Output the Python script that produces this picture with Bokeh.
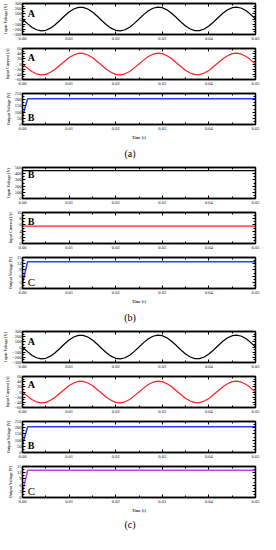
from bokeh.plotting import figure
from bokeh.layouts import column
from bokeh.models import (Range1d, FixedTicker, LinearAxis, Label, Div, PrintfTickFormatter,
                          CustomLabelingPolicy, CustomJSTickFormatter)
from bokeh.embed import file_html
from bokeh.resources import INLINE

# ---------------- data ----------------
TIME_AC = [round(i * 0.001, 3) for i in range(51)]
INPUT_VOLTAGE_AC = [0, -85, -158, -208, -230, -219, -177, -111, -29, 57, 135, 194, 226, 226, 194,
                    135, 57, -29, -111, -177, -219, -230, -208, -158, -85, 0, 85, 158, 208, 230,
                    219, 177, 111, 29, -57, -135, -194, -226, -226, -194, -135, -57, 29, 111, 177,
                    219, 230, 208, 158, 85, 0]
INPUT_CURRENT_AC = [0, -15, -29, -38, -42, -40, -32, -20, -5, 10, 25, 35, 41, 41, 35, 25, 10, -5,
                    -20, -32, -40, -42, -38, -29, -15, 0, 15, 29, 38, 42, 40, 32, 20, 5, -10, -25,
                    -35, -41, -41, -35, -25, -10, 5, 20, 32, 40, 42, 38, 29, 15, 0]
TIME_OUT = [0, 0.00005, 0.0011, 0.05]
OUTPUT_VOLTAGE_B = [0, 70, 207, 207]
OUTPUT_VOLTAGE_C = [0, 3, 13, 13]
OUTPUT_VOLTAGE_C2 = [0, 3, 13.2, 13.2]
TIME_DC = [0, 0.05]
INPUT_VOLTAGE_DC = [450, 450]
INPUT_CURRENT_DC = [5.6, 5.6]

X_TICKS = [0.0, 0.01, 0.02, 0.03, 0.04, 0.05]
X_MINOR = [0.005, 0.015, 0.025, 0.035, 0.045]
V_AC_TICKS = [-300, -200, -100, 0, 100, 200, 300]
I_AC_TICKS = [-60, -40, -20, 0, 20, 40, 60]
V_B_TICKS = [0, 50, 100, 150, 200, 250]
V_DC_TICKS = [0, 100, 200, 300, 400, 500]
I_DC_TICKS = [0, 2, 4, 6, 8, 10]
V_C_TICKS = [0, 3, 6, 9, 12, 15]
CAPTIONS = ["(a)", "(b)", "(c)"]

SERIF = "Liberation Serif"
BLACK = "#000000"
RED = "#ff2020"
BLUE = "#2040ff"
VIOLET = "#c040f0"


def minors(ticks):
    out = []
    for a, b in zip(ticks[:-1], ticks[1:]):
        out.append((a + b) / 2)
    return out


def style_axis(ax, show_labels=True):
    ax.axis_line_color = "black"
    ax.axis_line_width = 1.3
    ax.major_tick_in = 3
    ax.major_tick_out = 0
    ax.minor_tick_in = 2
    ax.minor_tick_out = 0
    ax.major_tick_line_width = 1
    ax.minor_tick_line_width = 1
    ax.major_label_standoff = 1
    ax.major_label_text_font = SERIF
    ax.major_label_text_font_size = "4.5px"
    ax.major_label_text_color = "#111111"
    ax.axis_label_text_font = SERIF
    ax.axis_label_text_font_size = "4px"
    ax.axis_label_text_font_style = "bold"
    ax.axis_label_standoff = 1
    if not show_labels:
        ax.major_label_standoff = 0
        ax.formatter = CustomJSTickFormatter(code="return ''")
        ax.major_label_policy = CustomLabelingPolicy(code="return new Set()")


def panel(ylabel, yr, yticks, xs, ys, color, lw, letter, letter_y, bold=True,
          letter_size="10px", time_title=False):
    h = 54 if time_title else 45
    p = figure(width=260, height=h, x_range=Range1d(0, 0.05), y_range=Range1d(*yr),
               output_backend="svg", toolbar_location=None, x_axis_type=None, y_axis_type=None,
               min_border_left=17, min_border_right=5, min_border_top=3,
               min_border_bottom=20 if time_title else 11)
    p.xgrid.visible = False
    p.ygrid.visible = False
    p.outline_line_color = "black"
    p.outline_line_width = 1.3
    p.background_fill_color = "white"

    xt = FixedTicker(ticks=X_TICKS, minor_ticks=X_MINOR)
    yt = FixedTicker(ticks=yticks, minor_ticks=minors(yticks))

    bottom = LinearAxis(ticker=xt, formatter=PrintfTickFormatter(format="%.2f"))
    style_axis(bottom)
    bottom.major_label_standoff = 2
    if time_title:
        bottom.axis_label = "Time [s]"
        bottom.axis_label_standoff = 2
    p.add_layout(bottom, "below")

    top = LinearAxis(ticker=xt)
    style_axis(top, show_labels=False)
    p.add_layout(top, "above")

    left = LinearAxis(ticker=yt, axis_label=ylabel)
    style_axis(left)
    p.add_layout(left, "left")

    right = LinearAxis(ticker=yt)
    style_axis(right, show_labels=False)
    p.add_layout(right, "right")

    p.line(xs, ys, line_color=color, line_width=lw)

    p.add_layout(Label(x=0.0011, y=letter_y, text=letter, text_font=SERIF,
                       text_font_style="bold" if bold else "normal",
                       text_font_size=letter_size, text_baseline="middle", text_align="left",
                       text_color="black"))
    return p


def caption(txt, h=20):
    return Div(text=txt, width=260, height=h,
               styles={"text-align": "center", "font-family": SERIF, "font-size": "10px",
                       "line-height": f"{h}px", "width": "260px", "margin": "0", "padding": "0"})


items = []
# (a)
items.append(panel("Input Voltage [V]", (-300, 300), V_AC_TICKS, TIME_AC, INPUT_VOLTAGE_AC,
                   BLACK, 1.2, "A", 100))
items.append(panel("Input Current [A]", (-60, 60), I_AC_TICKS, TIME_AC, INPUT_CURRENT_AC,
                   RED, 1.2, "A", 24))
items.append(panel("Output Voltage [V]", (0, 250), V_B_TICKS, TIME_OUT, OUTPUT_VOLTAGE_B,
                   BLUE, 1.5, "B", 55, time_title=True))
items.append(caption(CAPTIONS[0]))
# (b)
items.append(panel("Input Voltage [V]", (0, 500), V_DC_TICKS, TIME_DC, INPUT_VOLTAGE_DC,
                   BLACK, 1.3, "B", 385))
items.append(panel("Input Current [A]", (0, 10), I_DC_TICKS, TIME_DC, INPUT_CURRENT_DC,
                   RED, 1.3, "B", 7.2))
items.append(panel("Output Voltage [V]", (0, 15), V_C_TICKS, TIME_OUT, OUTPUT_VOLTAGE_C,
                   BLUE, 1.5, "C", 3, bold=False, letter_size="11px", time_title=True))
items.append(caption(CAPTIONS[1]))
# (c)
items.append(panel("Input Voltage [V]", (-300, 300), V_AC_TICKS, TIME_AC, INPUT_VOLTAGE_AC,
                   BLACK, 1.2, "A", 100))
items.append(panel("Input Current [A]", (-60, 60), I_AC_TICKS, TIME_AC, INPUT_CURRENT_AC,
                   RED, 1.2, "A", 28))
items.append(panel("Output Voltage [V]", (0, 250), V_B_TICKS, TIME_OUT, OUTPUT_VOLTAGE_B,
                   BLUE, 1.5, "B", 55))
items.append(panel("Output Voltage [V]", (0, 15), V_C_TICKS, TIME_OUT, OUTPUT_VOLTAGE_C2,
                   VIOLET, 1.5, "C", 3, bold=False, letter_size="11px", time_title=True))
items.append(caption(CAPTIONS[2], h=16))

layout = column(*items, spacing=0)
open("out.html", "w").write(file_html(layout, INLINE))
